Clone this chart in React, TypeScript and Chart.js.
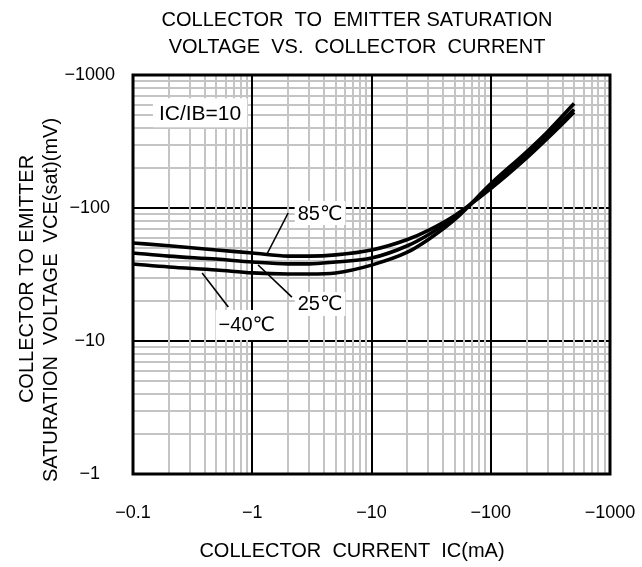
import React, { useEffect, useRef } from 'react';
import { Chart, registerables } from 'chart.js';

Chart.register(...registerables);

// ---- data ----
const currentMA = [0.1, 0.2, 0.5, 1, 2, 3, 5, 10, 20, 30, 50, 100, 200, 300, 500];
const vce85 = [54.6, 52, 48.3, 45.9, 43.5, 43.5, 44.4, 48.3, 58, 68, 88, 140, 238, 335, 525];
const vce25 = [45.9, 43.5, 41.3, 39.3, 38, 38, 39.3, 42, 52, 63, 85, 146, 250, 352, 550];
const vceM40 = [37.9, 36, 34.2, 32.5, 31.9, 31.9, 32.5, 37.2, 46.5, 58, 82, 152, 265, 375, 610];

const xDecades = [0.1, 1, 10, 100, 1000];
const xTickLabels = ['−0.1', '−1', '−10', '−100', '−1000'];
const yDecades = [1, 10, 100, 1000];
const yTickLabels = ['−1', '−10', '−100', '−1000'];
const minorSteps = [1, 2, 3, 4, 5, 6, 7, 8, 9];

const titleLines = ['COLLECTOR  TO  EMITTER SATURATION', 'VOLTAGE  VS.  COLLECTOR  CURRENT'];
const xTitle = 'COLLECTOR  CURRENT  IC(mA)';
const yTitleLines = ['COLLECTOR TO EMITTER', 'SATURATION  VOLTAGE  VCE(sat)(mV)'];

const labelNotes = [
  { text: 'IC/IB=10', x: 0.365, y: 520, padX: 6, padY: 4, size: 21 },
  { text: '85℃', x: 3.7, y: 91.7, padX: 3, padY: 2, size: 20 },
  { text: '25℃', x: 3.7, y: 19.0, padX: 3, padY: 2, size: 20 },
  { text: '−40℃', x: 0.9, y: 13.2, padX: 3, padY: 5, size: 20 },
];
const leaderLines = [
  { x1: 2.0, y1: 91.7, x2: 1.33, y2: 45.1 },
  { x1: 1.12, y1: 37.3, x2: 2.15, y2: 21.4 },
  { x1: 0.38, y1: 32.5, x2: 0.63, y2: 18.0 },
];

const FONT = '"Liberation Sans", Arial, "DejaVu Sans", sans-serif';

function gridValues(decades: number[]) {
  const out: number[] = [];
  for (let i = 0; i < decades.length - 1; i++) {
    for (const m of minorSteps) out.push(parseFloat((decades[i] * m).toPrecision(6)));
  }
  out.push(decades[decades.length - 1]);
  return out;
}
function isDecade(v: any) {
  if (typeof v !== 'number' || v <= 0) return false;
  const l = Math.log10(v);
  return Math.abs(l - Math.round(l)) < 1e-6;
}
function labelFor(decades: number[], labels: string[], v: number) {
  const i = decades.findIndex((d) => Math.abs(d - v) < d * 1e-6);
  return i >= 0 ? labels[i] : '';
}

const decorPlugin = {
  id: 'decor',
  afterDatasetsDraw(chart: any) {
    const { ctx, chartArea, scales } = chart;
    const xs = scales.x;
    const ys = scales.y;
    ctx.save();
    ctx.strokeStyle = '#000';
    ctx.lineWidth = 1.6;
    for (const l of leaderLines) {
      ctx.beginPath();
      ctx.moveTo(xs.getPixelForValue(l.x1), ys.getPixelForValue(l.y1));
      ctx.lineTo(xs.getPixelForValue(l.x2), ys.getPixelForValue(l.y2));
      ctx.stroke();
    }
    ctx.textAlign = 'center';
    ctx.textBaseline = 'middle';
    for (const n of labelNotes) {
      ctx.font = `${n.size}px ${FONT}`;
      const px = xs.getPixelForValue(n.x);
      const py = ys.getPixelForValue(n.y);
      const w = ctx.measureText(n.text).width;
      const h = n.size;
      ctx.fillStyle = '#fff';
      ctx.fillRect(px - w / 2 - n.padX, py - h / 2 - n.padY, w + 2 * n.padX, h + 2 * n.padY);
      ctx.fillStyle = '#000';
      ctx.fillText(n.text, px, py + 1);
    }
    ctx.lineWidth = 3;
    ctx.strokeRect(chartArea.left, chartArea.top, chartArea.right - chartArea.left, chartArea.bottom - chartArea.top);
    ctx.restore();
  },
  afterDraw(chart: any) {
    const { ctx } = chart;
    ctx.save();
    ctx.fillStyle = '#000';
    ctx.font = `20px ${FONT}`;
    ctx.textAlign = 'center';
    ctx.textBaseline = 'middle';
    ctx.fillText(titleLines[0], 357, 20);
    ctx.fillText(titleLines[1], 357, 47);
    ctx.fillText(xTitle, 352, 551);
    const yCenters = [279, 300];
    const xCols = [27, 51];
    yTitleLines.forEach((t, i) => {
      ctx.save();
      ctx.translate(xCols[i], yCenters[i]);
      ctx.rotate(-Math.PI / 2);
      ctx.fillText(t, 0, 0);
      ctx.restore();
    });
    ctx.restore();
  },
};

export default function App() {
  const ref = useRef<HTMLCanvasElement | null>(null);
  useEffect(() => {
    if (!ref.current) return;
    const mk = (vals: number[]) => currentMA.map((x, i) => ({ x, y: vals[i] }));
    const ds = (label: string, vals: number[]) => ({
      label,
      data: mk(vals),
      borderColor: '#000',
      backgroundColor: '#000',
      borderWidth: 3.6,
      pointRadius: 0,
      cubicInterpolationMode: 'monotone' as const,
      fill: false,
    });
    const xGrid = gridValues(xDecades);
    const yGrid = gridValues(yDecades);
    const chart = new Chart(ref.current, {
      type: 'line',
      data: {
        datasets: [ds('85℃', vce85), ds('25℃', vce25), ds('−40℃', vceM40)],
      },
      options: {
        animation: false,
        responsive: true,
        maintainAspectRatio: false,
        layout: { padding: { top: 75, right: 32, left: 0, bottom: 0 } },
        plugins: { legend: { display: false }, title: { display: false }, tooltip: { enabled: false } },
        scales: {
          x: {
            type: 'logarithmic',
            min: 0.1,
            max: 1000,
            afterBuildTicks: (s: any) => {
              s.ticks = xGrid.map((v) => ({ value: v }));
            },
            afterFit: (s: any) => {
              s.height = 93;
              s.paddingLeft = 0;
              s.paddingRight = 0;
            },
            border: { display: false },
            grid: {
              z: -1,
              drawTicks: false,
              color: (c: any) => (isDecade(c.tick?.value) ? '#000' : '#c4c4c4'),
              lineWidth: 2,
            },
            ticks: {
              autoSkip: false,
              maxRotation: 0,
              minRotation: 0,
              padding: 28,
              color: '#000',
              font: { family: FONT, size: 18 },
              callback: (v: any) => labelFor(xDecades, xTickLabels, Number(v)),
            },
          },
          y: {
            type: 'logarithmic',
            min: 1,
            max: 1000,
            afterBuildTicks: (s: any) => {
              s.ticks = yGrid.map((v) => ({ value: v }));
            },
            afterFit: (s: any) => {
              s.width = 133;
              s.paddingTop = 0;
              s.paddingBottom = 0;
            },
            border: { display: false },
            grid: {
              z: -2,
              drawTicks: false,
              color: (c: any) => (isDecade(c.tick?.value) ? '#000' : '#c4c4c4'),
              lineWidth: 2,
            },
            ticks: {
              autoSkip: false,
              crossAlign: 'center',
              padding: 18,
              color: '#000',
              font: { family: FONT, size: 18 },
              callback: (v: any) => labelFor(yDecades, yTickLabels, Number(v)),
            },
          },
        },
      },
      plugins: [decorPlugin],
    });
    return () => chart.destroy();
  }, []);
  return (
    <div style={{ position: 'absolute', left: 0, top: 0, width: 642, height: 567, background: '#fff' }}>
      <canvas ref={ref} />
    </div>
  );
}
